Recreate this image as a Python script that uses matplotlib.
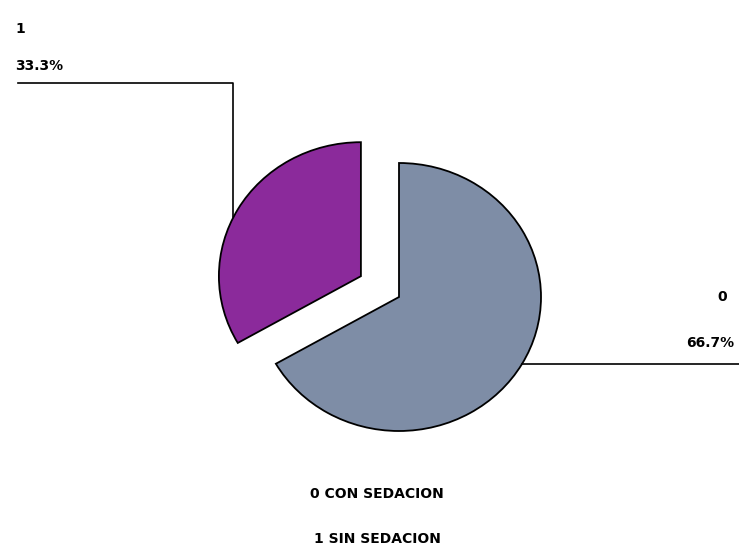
import numpy as np
import matplotlib.pyplot as plt

# Datos del grafico
categorias = ['0', '1']
porcentajes = [66.7, 33.3]
leyenda = ['0 CON SEDACION', '1 SIN SEDACION']
colores = ['#7e8da6', '#8b2a9b']

W, H = 739, 548
# pixeles por unidad de radio (la imagen original esta algo estirada en x)
sx, sy = 142.0, 134.0

fig = plt.figure(figsize=(W / 100, H / 100), dpi=100)
ax = fig.add_axes([0, 0, 1, 1])

centro = (399 / sx, (H - 297) / sy)
wedges, _ = ax.pie(porcentajes, labels=None, colors=colores,
                   startangle=90, counterclock=False,
                   explode=[0, 0.31], center=centro, radius=1,
                   wedgeprops=dict(edgecolor='black', linewidth=1.3))

ax.set_aspect('auto')
ax.set_xlim(0, W / sx)
ax.set_ylim(0, H / sy)
ax.axis('off')


def px(x, y):
    # pixel -> datos
    return x / sx, (H - y) / sy


def punto_arco(w, ang):
    cx, cy = w.center
    a = np.deg2rad(ang)
    return cx + w.r * np.cos(a), cy + w.r * np.sin(a)


fs = 10
# etiqueta de la porcion 1 (morada)
x0, y0 = punto_arco(wedges[1], 154)
ly = px(0, 83)[1]
lx = px(18, 0)[0]
ax.plot([x0, x0, lx], [y0, ly, ly], color='black', lw=1.2)
ax.text(*px(15, 70), f'{porcentajes[1]:.1f}%', fontsize=fs, fontweight='bold',
        ha='left', va='baseline')
ax.text(*px(15, 33), categorias[1], fontsize=fs, fontweight='bold',
        ha='left', va='baseline')

# etiqueta de la porcion 0 (gris)
x1, y1 = punto_arco(wedges[0], -30)
ax.plot([x1, W / sx], [y1, y1], color='black', lw=1.2)
ax.text(*px(734, 347), f'{porcentajes[0]:.1f}%', fontsize=fs, fontweight='bold',
        ha='right', va='baseline')
ax.text(*px(727, 301), categorias[0], fontsize=fs, fontweight='bold',
        ha='right', va='baseline')

# leyenda inferior
ax.text(*px(377, 498), leyenda[0], fontsize=fs, fontweight='bold',
        ha='center', va='baseline')
ax.text(*px(377, 543), leyenda[1], fontsize=fs, fontweight='bold',
        ha='center', va='baseline')

fig.savefig('out.png', dpi=100, facecolor='white')
